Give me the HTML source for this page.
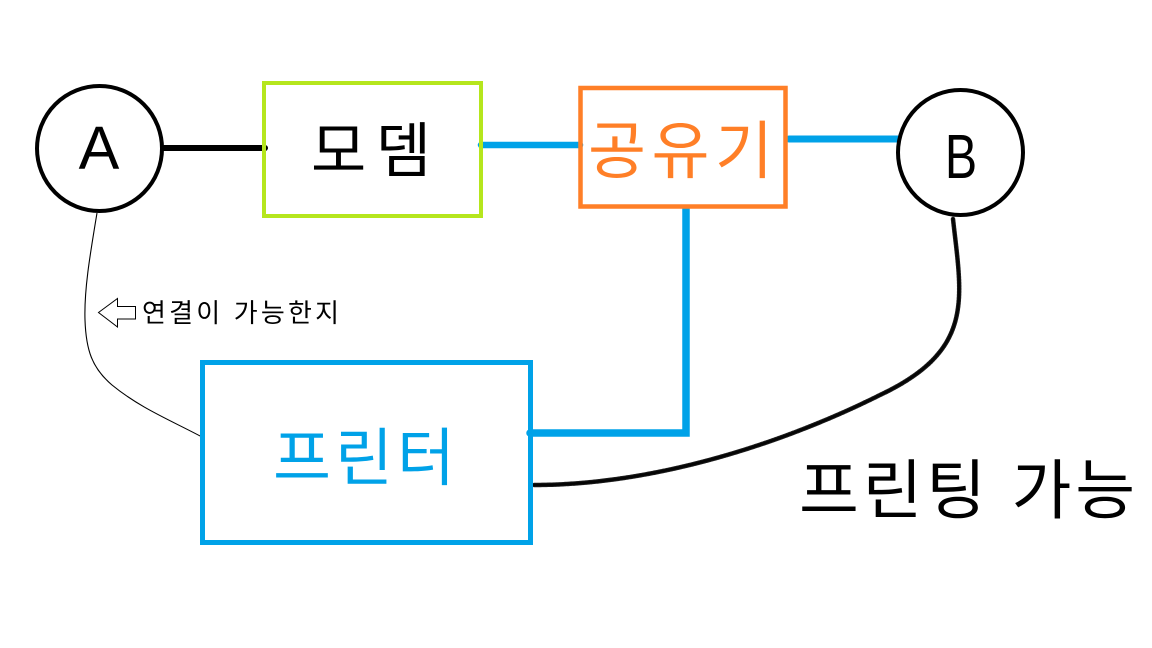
<!DOCTYPE html>
<html>
<head>
<meta charset="utf-8">
<style>
  html, body { margin: 0; padding: 0; background: #ffffff; }
  body { width: 1152px; height: 648px; overflow: hidden; }
  svg { display: block; }
  .kr { font-family: "Liberation Sans", "Noto Sans CJK KR", "NanumGothic", sans-serif; }
  .lat { font-family: "Liberation Sans", sans-serif; }
</style>
</head>
<body>
<svg width="1152" height="648" viewBox="0 0 1152 648" xmlns="http://www.w3.org/2000/svg">
  <rect x="0" y="0" width="1152" height="648" fill="#ffffff"/>

  <!-- thin connector A -> printer -->
  <path d="M97,213 C90,255 84,290 85,320 C86,350 92,368 112,385 C140,408 170,420 202,437" fill="none" stroke="#000" stroke-width="1.1"/>

  <!-- spray curve B -> printer -->
  <path d="M953,219 C962,300 975,350 880,395 C790,440 660,485 534,485" fill="none" stroke="#1a1a1a" stroke-width="4.5" stroke-dasharray="2 1" stroke-linecap="round"/>
  <path d="M953,219 C962,300 975,350 880,395 C790,440 660,485 534,485" fill="none" stroke="#000" stroke-width="2.5" stroke-linecap="round" opacity="0.8"/>

  <!-- A -> modem black line -->
  <line x1="164" y1="148" x2="265" y2="148" stroke="#000" stroke-width="6" stroke-linecap="round"/>

  <!-- modem -> router blue -->
  <line x1="481" y1="145" x2="580" y2="145" stroke="#00a2e8" stroke-width="6.5" stroke-linecap="round"/>
  <!-- router -> B blue -->
  <line x1="789" y1="139" x2="902" y2="139" stroke="#00a2e8" stroke-width="7" stroke-linecap="round"/>
  <!-- router -> printer blue elbow -->
  <polyline points="686,209 686,433 530,433" fill="none" stroke="#00a2e8" stroke-width="7.5" stroke-linecap="round" stroke-linejoin="miter"/>

  <!-- circle A -->
  <circle cx="99.5" cy="148.5" r="62.5" fill="#fff" stroke="#000" stroke-width="4"/>
  <text x="99" y="169" text-anchor="middle" class="lat" font-size="61" fill="#000">A</text>

  <!-- circle B -->
  <circle cx="960.5" cy="152.5" r="62.5" fill="#fff" stroke="#000" stroke-width="4"/>
  <g transform="translate(961,0) scale(0.78,1)">
    <text x="0" y="178" text-anchor="middle" class="lat" font-size="62" fill="#000">B</text>
  </g>

  <!-- modem box -->
  <rect x="264" y="83" width="217" height="133" fill="none" stroke="#b5e61d" stroke-width="4"/>
  <text x="311" y="172" class="kr" font-size="60" fill="#000" textLength="120" lengthAdjust="spacing">모뎀</text>

  <!-- router box -->
  <rect x="580.5" y="88" width="205" height="118.5" fill="none" stroke="#ff7f27" stroke-width="4.5"/>
  <text x="588" y="173" class="kr" font-size="63" fill="#ff7f27" textLength="185" lengthAdjust="spacing">공유기</text>

  <!-- printer box -->
  <rect x="202.5" y="362.5" width="328" height="180" fill="none" stroke="#00a2e8" stroke-width="5"/>
  <text x="273" y="480" class="kr" font-size="63" fill="#00a2e8" textLength="182" lengthAdjust="spacing">프린터</text>

  <!-- outline arrow -->
  <polygon points="98.5,312.5 117.5,298.5 117.5,306.5 135.5,306.5 135.5,319 117.5,319 117.5,327 " fill="#fff" stroke="#000" stroke-width="1"/>
  <text x="142" y="322" class="kr" font-size="26" fill="#000" textLength="197" lengthAdjust="spacing">연결이 가능한지</text>

  <!-- printing available -->
  <text x="799" y="513" class="kr" font-size="65" fill="#000" textLength="336" lengthAdjust="spacing">프린팅 가능</text>
</svg>
</body>
</html>
